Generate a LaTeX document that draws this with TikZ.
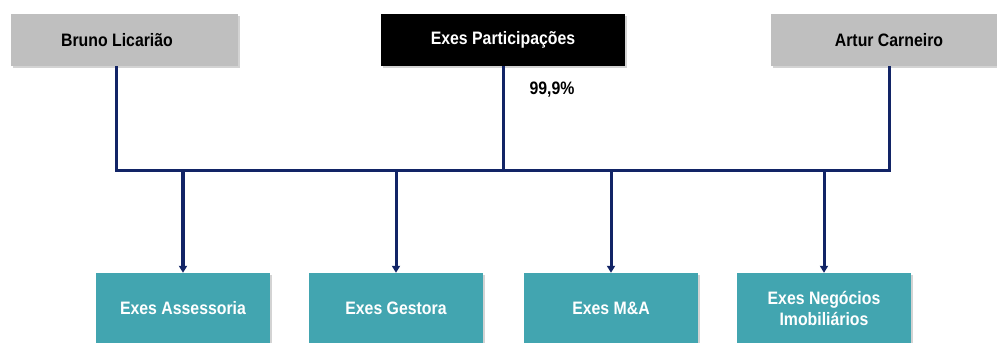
\documentclass[tikz,border=0pt]{standalone}
\usepackage{fontspec}
\newfontfamily\orgfont{Liberation Sans}[FakeStretch=0.88]
\usetikzlibrary{arrows.meta,shadows}

\definecolor{boxgray}{RGB}{191,191,191}
\definecolor{boxteal}{RGB}{66,165,176}
\definecolor{linknavy}{RGB}{18,36,102}

\tikzset{
    owner/.style={rectangle, fill=boxgray, minimum width=227pt, minimum height=52pt,
        font=\orgfont\fontsize{18}{20}\selectfont\bfseries, text=black,
        drop shadow={shadow xshift=2pt, shadow yshift=-2pt, opacity=0.35}},
    holding/.style={rectangle, fill=black, minimum width=244pt, minimum height=52pt,
        font=\orgfont\fontsize{18}{20}\selectfont\bfseries, text=white,
        drop shadow={shadow xshift=2pt, shadow yshift=-2pt, opacity=0.35}},
    company/.style={rectangle, fill=boxteal, minimum width=174pt, minimum height=70pt,
        align=center, font=\orgfont\fontsize{18}{21}\selectfont\bfseries, text=white,
        drop shadow={shadow xshift=2pt, shadow yshift=-2pt, opacity=0.35}},
    link/.style={draw=linknavy, line width=3pt},
    arrow/.style={link, -{Triangle[length=7pt,width=8pt]}}
}

\begin{document}
\begin{tikzpicture}[x=1pt, y=-1pt]
    \useasboundingbox (0,0) rectangle (997,343);

    % Define nodes for owners
    \node[owner] (bruno) at (124.5, 40) {\hspace*{-15pt}Bruno Licarião};
    \node[holding] (exespar) at (503, 40) {Exes Participações};
    \node[owner, minimum width=236pt] (artur) at (889, 40) {Artur Carneiro};
    \node[font=\orgfont\fontsize{18}{20}\selectfont\bfseries] (pct) at (552, 90) {99,9\%};

    % Define nodes for companies
    \node[company] (assessoria) at (183, 308) {Exes Assessoria};
    \node[company] (gestora) at (396, 308) {Exes Gestora};
    \node[company] (ma) at (611, 308) {Exes M\&A};
    \node[company] (negocios) at (824, 308) {Exes Negócios\\Imobiliários};

    % Bus line
    \coordinate (busL) at (116, 170);
    \coordinate (busR) at (889, 170);

    % Draw edges
    \draw[link] ([xshift=-8.5pt]bruno.south) -- (busL) -- (busR) -- (artur.south);
    \draw[link] (exespar.south) -- (exespar.south |- busL);

    \draw[arrow, line width=3.8pt] (assessoria.north |- busL) -- (assessoria.north);
    \draw[arrow] (gestora.north |- busL) -- (gestora.north);
    \draw[arrow] (ma.north |- busL) -- (ma.north);
    \draw[arrow] (negocios.north |- busL) -- (negocios.north);

\end{tikzpicture}
\end{document}
